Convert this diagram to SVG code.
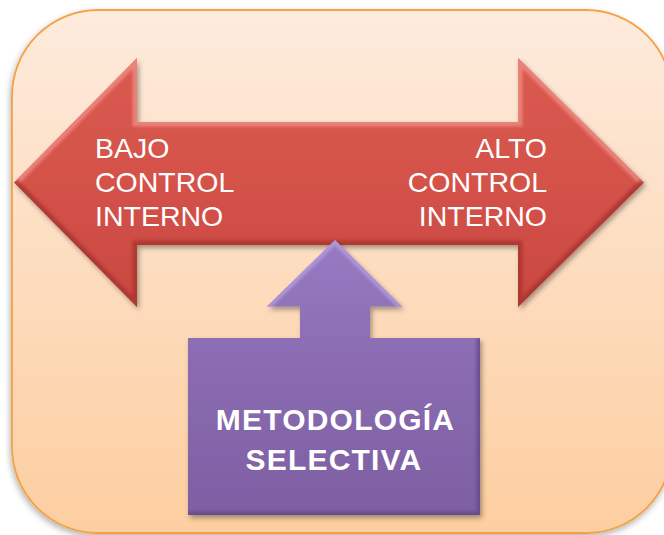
<svg xmlns="http://www.w3.org/2000/svg" width="664" height="535" viewBox="0 0 664 535">
  <style>
    .lbl { font-family: "Liberation Sans", Arial, sans-serif; fill: #ffffff; }
    .red-lbl { font-size: 28.5px; }
    .purple-lbl { font-size: 30px; font-weight: bold; letter-spacing: 1.2px; }
  </style>
  <defs>
    <linearGradient id="bgFill" x1="0" y1="0" x2="0" y2="1">
      <stop offset="0" stop-color="#FDEBDD"/>
      <stop offset="1" stop-color="#FDCEA0"/>
    </linearGradient>
    <linearGradient id="redFill" x1="0" y1="58" x2="0" y2="307" gradientUnits="userSpaceOnUse">
      <stop offset="0" stop-color="#DA5A50"/>
      <stop offset="0.5" stop-color="#D4524A"/>
      <stop offset="1" stop-color="#C94840"/>
    </linearGradient>
    <linearGradient id="purpleFill" x1="0" y1="240" x2="0" y2="515" gradientUnits="userSpaceOnUse">
      <stop offset="0" stop-color="#977AC2"/>
      <stop offset="0.5" stop-color="#896AB0"/>
      <stop offset="1" stop-color="#7E5FA3"/>
    </linearGradient>
    <filter id="shadow" x="-10%" y="-10%" width="125%" height="125%">
      <feDropShadow dx="2" dy="3" stdDeviation="2.5" flood-color="#000000" flood-opacity="0.35"/>
    </filter>
    <filter id="bgShadow" x="-5%" y="-5%" width="110%" height="110%">
      <feDropShadow dx="-1" dy="3" stdDeviation="3" flood-color="#000000" flood-opacity="0.3"/>
    </filter>
    <filter id="soft" x="-5%" y="-5%" width="110%" height="110%">
      <feGaussianBlur stdDeviation="1.6"/>
    </filter>
    <clipPath id="redClip">
      <path d="M14,182.5 L137,58 L137,122 L518,122 L518,58 L644,182.5 L518,307 L518,245 L137,245 L137,307 Z"/>
    </clipPath>
    <clipPath id="upClip">
      <path d="M335,240 L402,306.5 L370,306.5 L370,340 L300,340 L300,306.5 L267,306.5 Z"/>
    </clipPath>
    <clipPath id="boxClip">
      <rect x="188" y="338" width="292" height="177"/>
    </clipPath>
  </defs>

  <!-- backdrop panel -->
  <g id="panel">
    <rect x="12" y="10" width="660" height="523" rx="86" ry="86" fill="url(#bgFill)" stroke="#F5A043" stroke-width="1.8" filter="url(#bgShadow)"/>
  </g>

  <!-- double-headed red arrow -->
  <g id="control-arrow">
    <path d="M14,182.5 L137,58 L137,122 L518,122 L518,58 L644,182.5 L518,307 L518,245 L137,245 L137,307 Z" fill="url(#redFill)" filter="url(#shadow)"/>
    <g clip-path="url(#redClip)">
      <!-- bevel: light upper edges, dark lower edges -->
      <path d="M14,182.5 L137,58 L137,122 L518,122 L518,58 L644,182.5" fill="none" stroke="#EE8A80" stroke-width="9" filter="url(#soft)" opacity="0.85"/>
      <path d="M14,182.5 L137,307 L137,245 L518,245 L518,307 L644,182.5" fill="none" stroke="#A8352F" stroke-width="9" filter="url(#soft)" opacity="0.8"/>
    </g>
    <text class="lbl red-lbl" x="95" y="158">BAJO</text>
    <text class="lbl red-lbl" x="95" y="192">CONTROL</text>
    <text class="lbl red-lbl" x="95" y="226">INTERNO</text>
    <text class="lbl red-lbl" x="547" y="158" text-anchor="end">ALTO</text>
    <text class="lbl red-lbl" x="547" y="192" text-anchor="end">CONTROL</text>
    <text class="lbl red-lbl" x="547" y="226" text-anchor="end">INTERNO</text>
  </g>

  <!-- purple upward arrow -->
  <g id="method-arrow">
    <path d="M335,240 L402,306.5 L370,306.5 L370,340 L300,340 L300,306.5 L267,306.5 Z" fill="url(#purpleFill)" filter="url(#shadow)"/>
    <g clip-path="url(#upClip)">
      <path d="M267,306.5 L335,240 L402,306.5" fill="none" stroke="#B39BDA" stroke-width="8" filter="url(#soft)" opacity="0.85"/>
      <path d="M267,306.5 L300,306.5 M370,306.5 L402,306.5" fill="none" stroke="#5E4585" stroke-width="6" filter="url(#soft)" opacity="0.8"/>
    </g>
  </g>

  <!-- purple box -->
  <g id="method-box">
    <rect x="188" y="338" width="292" height="177" fill="url(#purpleFill)" filter="url(#shadow)"/>
    <g clip-path="url(#boxClip)">
      <path d="M188,338 L480,338" fill="none" stroke="#B9A0E0" stroke-width="10" filter="url(#soft)"/>
      <path d="M188,338 L188,515" fill="none" stroke="#6E5196" stroke-width="6" filter="url(#soft)" opacity="0.8"/>
      <path d="M188,515 L480,515 L480,338" fill="none" stroke="#634888" stroke-width="7" filter="url(#soft)" opacity="0.8"/>
    </g>
    <text class="lbl purple-lbl" x="335.5" y="430" text-anchor="middle">METODOLOGÍA</text>
    <text class="lbl purple-lbl" x="334" y="470" text-anchor="middle">SELECTIVA</text>
  </g>
</svg>
